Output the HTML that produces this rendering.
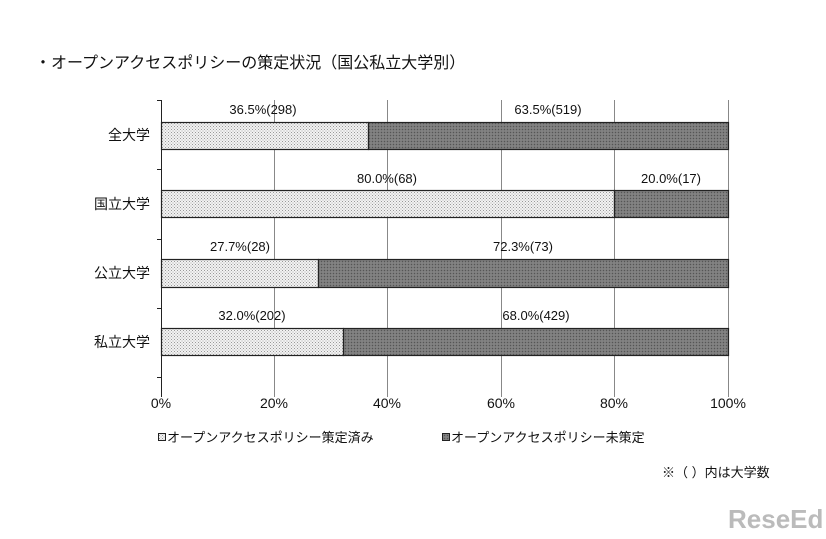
<!DOCTYPE html>
<html><head><meta charset="utf-8"><style>
body{margin:0;background:#fff;}
svg text{font-family:"Liberation Sans","Noto Sans CJK JP",sans-serif;fill:#111;}
</style></head><body>
<svg width="826" height="534" xmlns="http://www.w3.org/2000/svg">
<defs>
<pattern id="lt" width="3" height="3" patternUnits="userSpaceOnUse"><rect width="3" height="3" fill="#f2f2f2"/><rect width="1" height="1" fill="#999"/><rect x="1.5" y="1.5" width="1" height="1" fill="#aaa"/></pattern>
<pattern id="dk" width="3" height="3" patternUnits="userSpaceOnUse"><rect width="3" height="3" fill="#7a7a7a"/><rect width="1" height="1" fill="#555"/><rect x="1.5" y="1.5" width="1" height="1" fill="#999"/></pattern>
</defs>
<text x="35" y="68" font-size="16">・オープンアクセスポリシーの策定状況（国公私立大学別）</text>
<g stroke="#888" stroke-width="1">
<line x1="274.5" y1="100" x2="274.5" y2="397"/><line x1="387.5" y1="100" x2="387.5" y2="397"/>
<line x1="501.5" y1="100" x2="501.5" y2="397"/><line x1="614.5" y1="100" x2="614.5" y2="397"/>
<line x1="728.5" y1="100" x2="728.5" y2="397"/>
</g>
<g stroke="#222" stroke-width="1">
<line x1="161.5" y1="100" x2="161.5" y2="397"/>
<line x1="157" y1="100.5" x2="161" y2="100.5"/><line x1="157" y1="169.5" x2="161" y2="169.5"/>
<line x1="157" y1="239.5" x2="161" y2="239.5"/><line x1="157" y1="308.5" x2="161" y2="308.5"/>
<line x1="157" y1="377.5" x2="161" y2="377.5"/>
</g>
<g stroke="#222" stroke-width="1.2">
<rect x="161.5" y="122.5" width="207" height="27" fill="url(#lt)"/><rect x="368.5" y="122.5" width="360" height="27" fill="url(#dk)"/>
<rect x="161.5" y="190.5" width="453" height="27" fill="url(#lt)"/><rect x="614.5" y="190.5" width="114" height="27" fill="url(#dk)"/>
<rect x="161.5" y="259.5" width="157" height="28" fill="url(#lt)"/><rect x="318.5" y="259.5" width="410" height="28" fill="url(#dk)"/>
<rect x="161.5" y="328.5" width="182" height="27" fill="url(#lt)"/><rect x="343.5" y="328.5" width="385" height="27" fill="url(#dk)"/>
</g>
<g font-size="13" text-anchor="middle">
<text x="263" y="114">36.5%(298)</text><text x="548" y="114">63.5%(519)</text>
<text x="387" y="183">80.0%(68)</text><text x="671" y="183">20.0%(17)</text>
<text x="240" y="251">27.7%(28)</text><text x="523" y="251">72.3%(73)</text>
<text x="252" y="320">32.0%(202)</text><text x="536" y="320">68.0%(429)</text>
</g>
<g font-size="14" text-anchor="end">
<text x="150" y="140">全大学</text><text x="150" y="209">国立大学</text>
<text x="150" y="278">公立大学</text><text x="150" y="347">私立大学</text>
</g>
<g font-size="14" text-anchor="middle">
<text x="161" y="408">0%</text><text x="274" y="408">20%</text><text x="387" y="408">40%</text>
<text x="501" y="408">60%</text><text x="614" y="408">80%</text><text x="728" y="408">100%</text>
</g>
<rect x="158.5" y="433.5" width="7" height="7" fill="url(#lt)" stroke="#222"/>
<text x="167" y="442" font-size="13">オープンアクセスポリシー策定済み</text>
<rect x="442.5" y="433.5" width="7" height="7" fill="url(#dk)" stroke="#222"/>
<text x="451" y="442" font-size="13">オープンアクセスポリシー未策定</text>
<text x="662" y="477" font-size="13">※（ ）内は大学数</text>
<text x="728" y="528" font-size="26" font-weight="bold" fill="#bbb" style="fill:#bbb">ReseEd</text>
</svg>
</body></html>
